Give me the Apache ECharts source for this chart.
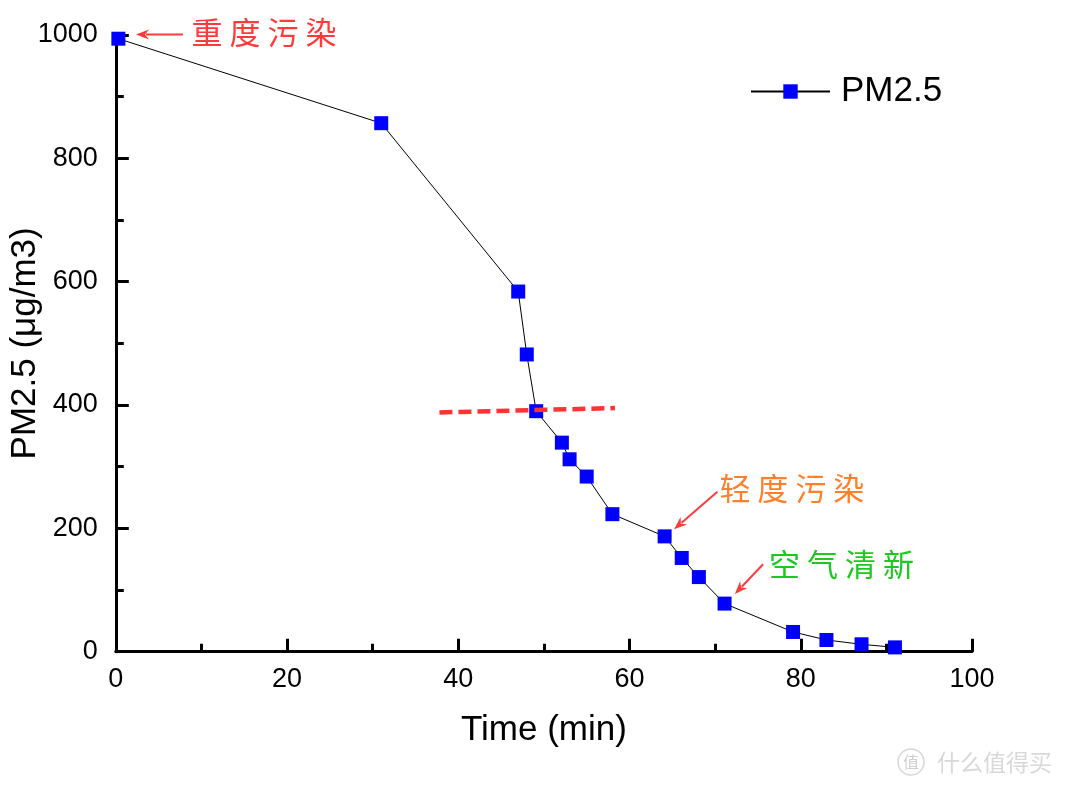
<!DOCTYPE html>
<html>
<head>
<meta charset="utf-8">
<script src="https://cdn.jsdelivr.net/npm/echarts@6/dist/echarts.min.js"></script>
<style>html,body{margin:0;padding:0;background:#fff;}#c{width:1065px;height:787px;}</style>
</head>
<body>
<div id="c"></div>
<script>
// ---- data ----
var timeMin = [0.3, 31.0, 47.0, 48.0, 49.1, 52.1, 53.0, 55.0, 58.0, 64.1, 66.1, 68.1, 71.1, 79.1, 83.0, 87.1, 91.0];
var pm25 = [994, 857, 584, 482, 390, 339, 312, 284, 223, 187, 152, 121, 78, 32, 19, 12, 7];
var refLineX = [37.8, 58.3];
var refLineY = [388, 395];
var xTicks = [0, 20, 40, 60, 80, 100];
var yTicks = [0, 200, 400, 600, 800, 1000];
var annoText = ['重 度 污 染', '轻 度 污 染', '空 气 清 新'];
var annoColor = ['#ff3a3a', '#ff7f2a', '#1ec81e'];
var annoTextX = [8.85, 70.5, 76.3];
var annoTextY = [1004, 265, 142];
var arrowFromX = [7.84, 70.26, 75.6];
var arrowFromY = [1001, 259.4, 141.7];
var arrowToX = [2.36, 65.2, 72.3];
var arrowToY = [1001, 198.5, 93.6];

var chart = echarts.init(document.getElementById('c'));
var font = '"Liberation Sans", Arial, sans-serif';
var mainData = timeMin.map(function (t, i) { return [t, pm25[i]]; });
var refData = refLineX.map(function (t, i) { return [t, refLineY[i]]; });

var axisCommon = {
  axisLine: { show: true, onZero: false, lineStyle: { color: '#000', width: 3 } },
  axisTick: { show: true, inside: true, length: 13, lineStyle: { color: '#000', width: 3 } },
  minorTick: { show: true, splitNumber: 2, length: 8, lineStyle: { color: '#000', width: 3 } },
  splitLine: { show: false },
  nameLocation: 'middle',
  nameMoveOverlap: false,
  nameTextStyle: { fontFamily: font, fontSize: 35, color: '#000' }
};

chart.setOption({
  animation: false,
  backgroundColor: '#fff',
  grid: { left: 115.8, right: 93, top: 35, bottom: 135.3, containLabel: false, outerBoundsMode: 'none' },
  legend: {
    left: 750, top: 74, padding: 0,
    itemWidth: 79, itemHeight: 18,
    data: [{ name: 'PM2.5' }],
    textStyle: { fontFamily: font, fontSize: 35, color: '#000', padding: [0, 0, 0, 6] }
  },
  xAxis: Object.assign({}, axisCommon, {
    type: 'value', min: 0, max: 100, interval: 20,
    name: 'Time (min)', nameGap: 61,
    axisLabel: { fontFamily: font, fontSize: 27, color: '#000', margin: 14,
      formatter: function (v) { return xTicks.indexOf(v) >= 0 ? String(v) : ''; } }
  }),
  yAxis: Object.assign({}, axisCommon, {
    type: 'value', min: 0, max: 1000, interval: 200,
    name: 'PM2.5 (μg/m3)', nameGap: 73,
    axisLabel: { fontFamily: font, fontSize: 27, color: '#000', margin: 18,
      formatter: function (v) { return yTicks.indexOf(v) >= 0 ? String(v) : ''; } }
  }),
  series: [
    {
      name: 'PM2.5', type: 'line', data: mainData,
      symbol: 'rect', symbolSize: 14, showSymbol: true,
      itemStyle: { color: '#0000ff' },
      lineStyle: { color: '#000', width: 1 },
      clip: false, z: 3
    },
    {
      name: 'ref', type: 'line', data: refData, symbol: 'none',
      lineStyle: { color: '#ff3333', width: 4.5, type: [13, 6] }, z: 4
    }
  ]
});

var g = [];
for (var i = 0; i < annoText.length; i++) {
  var p = chart.convertToPixel({ gridIndex: 0 }, [annoTextX[i], annoTextY[i]]);
  g.push({ type: 'text', x: p[0], y: p[1], z: 10,
    style: { text: annoText[i], fill: annoColor[i], font: '31px "Noto Sans CJK SC"', verticalAlign: 'middle' } });
  var a = chart.convertToPixel({ gridIndex: 0 }, [arrowFromX[i], arrowFromY[i]]);
  var b = chart.convertToPixel({ gridIndex: 0 }, [arrowToX[i], arrowToY[i]]);
  var dx = b[0] - a[0], dy = b[1] - a[1], L = Math.sqrt(dx * dx + dy * dy);
  var ux = dx / L, uy = dy / L, hl = 13, hw = 5;
  var bx = b[0] - ux * hl, by = b[1] - uy * hl;
  g.push({ type: 'line', z: 10, shape: { x1: a[0], y1: a[1], x2: bx + ux * 3, y2: by + uy * 3 },
    style: { stroke: '#ff3a3a', lineWidth: 2 } });
  g.push({ type: 'polygon', z: 10, shape: { points: [[b[0], b[1]], [bx - uy * hw, by + ux * hw], [bx + ux * 4, by + uy * 4], [bx + uy * hw, by - ux * hw]] },
    style: { fill: '#ff3a3a' } });
}
g.push({ type: 'circle', shape: { cx: 911, cy: 762, r: 13 }, style: { fill: 'none', stroke: '#d8d8d8', lineWidth: 1.5 } });
g.push({ type: 'text', x: 911, y: 762, style: { text: '值', fill: '#d0d0d0', font: '16px "Noto Sans CJK SC"', align: 'center', verticalAlign: 'middle' } });
g.push({ type: 'text', x: 937, y: 762, style: { text: '什么值得买', fill: '#d8d8d8', font: '23px "Noto Sans CJK SC"', verticalAlign: 'middle' } });
chart.setOption({ graphic: g });
</script>
</body>
</html>
